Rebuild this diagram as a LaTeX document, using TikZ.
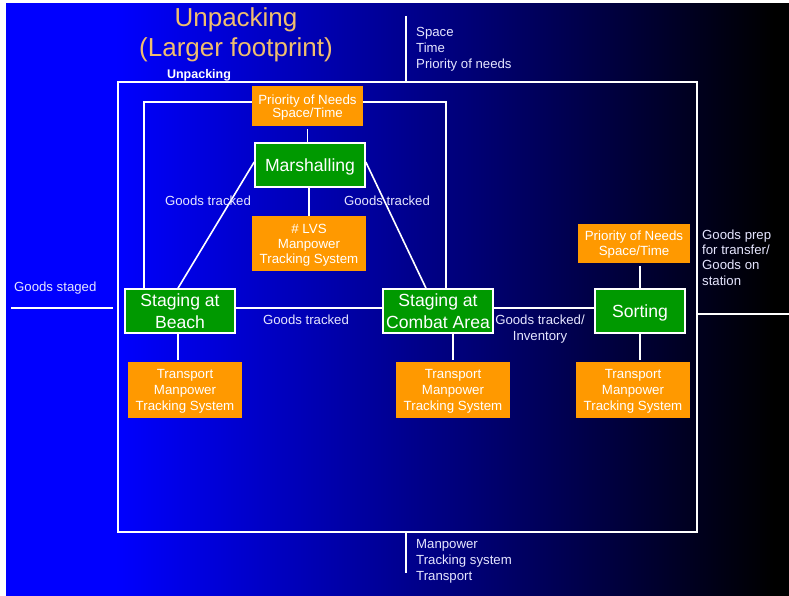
\documentclass[tikz,border=0pt]{standalone}
\usepackage{fontspec}
\setmainfont{Liberation Sans}
\definecolor{nodegreen}{RGB}{0,153,0}
\definecolor{nodeorange}{RGB}{255,153,0}
\definecolor{labeltext}{RGB}{230,230,255}
\definecolor{titletext}{RGB}{240,190,110}
% blue on the left, fading to black on the right
\pgfdeclarehorizontalshading{bgshade}{100bp}{rgb(0bp)=(0,0,1); rgb(32bp)=(0,0,1); rgb(74bp)=(0,0,0); rgb(100bp)=(0,0,0)}
\begin{document}
\begin{tikzpicture}[x=1pt,y=-1pt,
  greenbox/.style={draw=white, line width=1.6pt, fill=nodegreen, text=white,
    font=\fontsize{17.6}{21.5}\selectfont, align=center, inner sep=0pt, text depth=0pt},
  orangebox/.style={fill=nodeorange, text=white,
    font=\fontsize{13.3}{15.5}\selectfont, align=center, inner sep=0pt, text depth=0pt},
  wire/.style={draw=white, line width=1.6pt},
  lbl/.style={text=labeltext, font=\fontsize{13.2}{16}\selectfont, inner sep=0pt},
  sidelbl/.style={lbl, align=left, anchor=north west}]
\useasboundingbox (0,0) rectangle (789,596);
% background
\shade[shading=bgshade] (6,4) rectangle (789,596);

% title
\node[text=titletext, font=\fontsize{26}{30}\selectfont, align=center] (title) at (236,35)
  {Unpacking\\(Larger footprint)};
\node[text=white, font=\bfseries\fontsize{12.5}{15}\selectfont, inner sep=0pt] (frameName) at (199,75) {Unpacking};

% outer frame
\draw[wire] (118,82) coordinate (ftl) rectangle (697,532) coordinate (fbr);

% nodes
\node[orangebox, minimum width=111pt, minimum height=40pt, font=\fontsize{13.3}{12.8}\selectfont] (prio1) at (307.5,106) {Priority of Needs\\Space/Time};
\node[greenbox, minimum width=110pt, minimum height=44pt] (marsh) at (310,165) {Marshalling};
\node[orangebox, minimum width=114pt, minimum height=55pt, font=\fontsize{13.3}{15}\selectfont] (lvs) at (309,243.5) {\# LVS\\Manpower\\Tracking System};
\node[greenbox, minimum width=110pt, minimum height=44pt] (beach) at (180,311) {Staging at\\Beach};
\node[greenbox, minimum width=110pt, minimum height=44pt] (combat) at (438,311) {Staging at\\Combat Area};
\node[greenbox, minimum width=90pt, minimum height=44pt] (sort) at (640,311) {Sorting};
\node[orangebox, minimum width=112pt, minimum height=39pt, font=\fontsize{13.3}{15}\selectfont] (prio2) at (634,243.5) {Priority of Needs\\Space/Time};
\node[orangebox, minimum width=114pt, minimum height=56pt, font=\fontsize{13.3}{16}\selectfont] (t1) at (185,390) {Transport\\Manpower\\Tracking System};
\node[orangebox, minimum width=114pt, minimum height=56pt, font=\fontsize{13.3}{16}\selectfont] (t2) at (453,390) {Transport\\Manpower\\Tracking System};
\node[orangebox, minimum width=114pt, minimum height=56pt, font=\fontsize{13.3}{16}\selectfont] (t3) at (633,390) {Transport\\Manpower\\Tracking System};

% inner loop over the top
\coordinate (ltop) at (144,102);
\coordinate (rtop) at (446,102);
\draw[wire] (prio1.west |- ltop) -- (ltop) -- (ltop |- beach.north);
\draw[wire] (prio1.east |- rtop) -- (rtop) -- (rtop |- combat.north);

% connectors
\draw[wire] ([yshift=-3pt]prio1.south) -- (prio1.south |- marsh.north);
\draw[wire] (lvs.north |- marsh.south) -- (lvs.north);
\draw[wire] ([xshift=-2pt]beach.north) -- ([yshift=3pt]marsh.west);
\draw[wire] ([yshift=3pt]marsh.east) -- ([xshift=-12pt]combat.north);
\draw[wire] ([yshift=3pt]beach.east) -- ([yshift=3pt]combat.west);
\draw[wire] ([yshift=3pt]combat.east) -- ([yshift=3pt]sort.west);
\draw[wire] (sort.north) -- ([yshift=-3pt]sort.north |- prio2.south);
\draw[wire] ([xshift=-2pt]beach.south) -- ([xshift=-2pt,yshift=2pt]beach.south |- t1.north);
\draw[wire] (t2.north |- combat.south) -- ([yshift=2pt]t2.north);
\draw[wire] (sort.south) -- ([yshift=2pt]sort.south |- t3.north);

% edge labels
\node[lbl] (gtl) at (208,201) {Goods tracked};
\node[lbl] (gtr) at (387,201) {Goods tracked};
\node[lbl] (gtb) at (306,319.5) {Goods tracked};
\node[lbl, align=center] (gti) at (540,329) {Goods tracked/\\Inventory};

% external inputs and outputs
\coordinate (topIn) at (406,16);
\draw[wire] (topIn) -- (topIn |- ftl);
\node[sidelbl] (topTxt) at (416,27.5) {Space\\Time\\Priority of needs};

\coordinate (botOut) at (406,573);
\draw[wire] (botOut |- fbr) -- (botOut);
\node[sidelbl] (botTxt) at (416,539) {Manpower\\Tracking system\\Transport};

\coordinate (leftIn) at (11,308);
\draw[wire] (leftIn) -- (113,308);
\node[lbl, anchor=west] (leftTxt) at (14,288) {Goods staged};

\coordinate (rightOut) at (789,314);
\draw[wire] (fbr |- rightOut) -- (rightOut);
\node[sidelbl, font=\fontsize{13.2}{15.3}\selectfont] (rightTxt) at (702,229.5) {Goods prep\\for transfer/\\Goods on\\station};
\end{tikzpicture}
\end{document}
